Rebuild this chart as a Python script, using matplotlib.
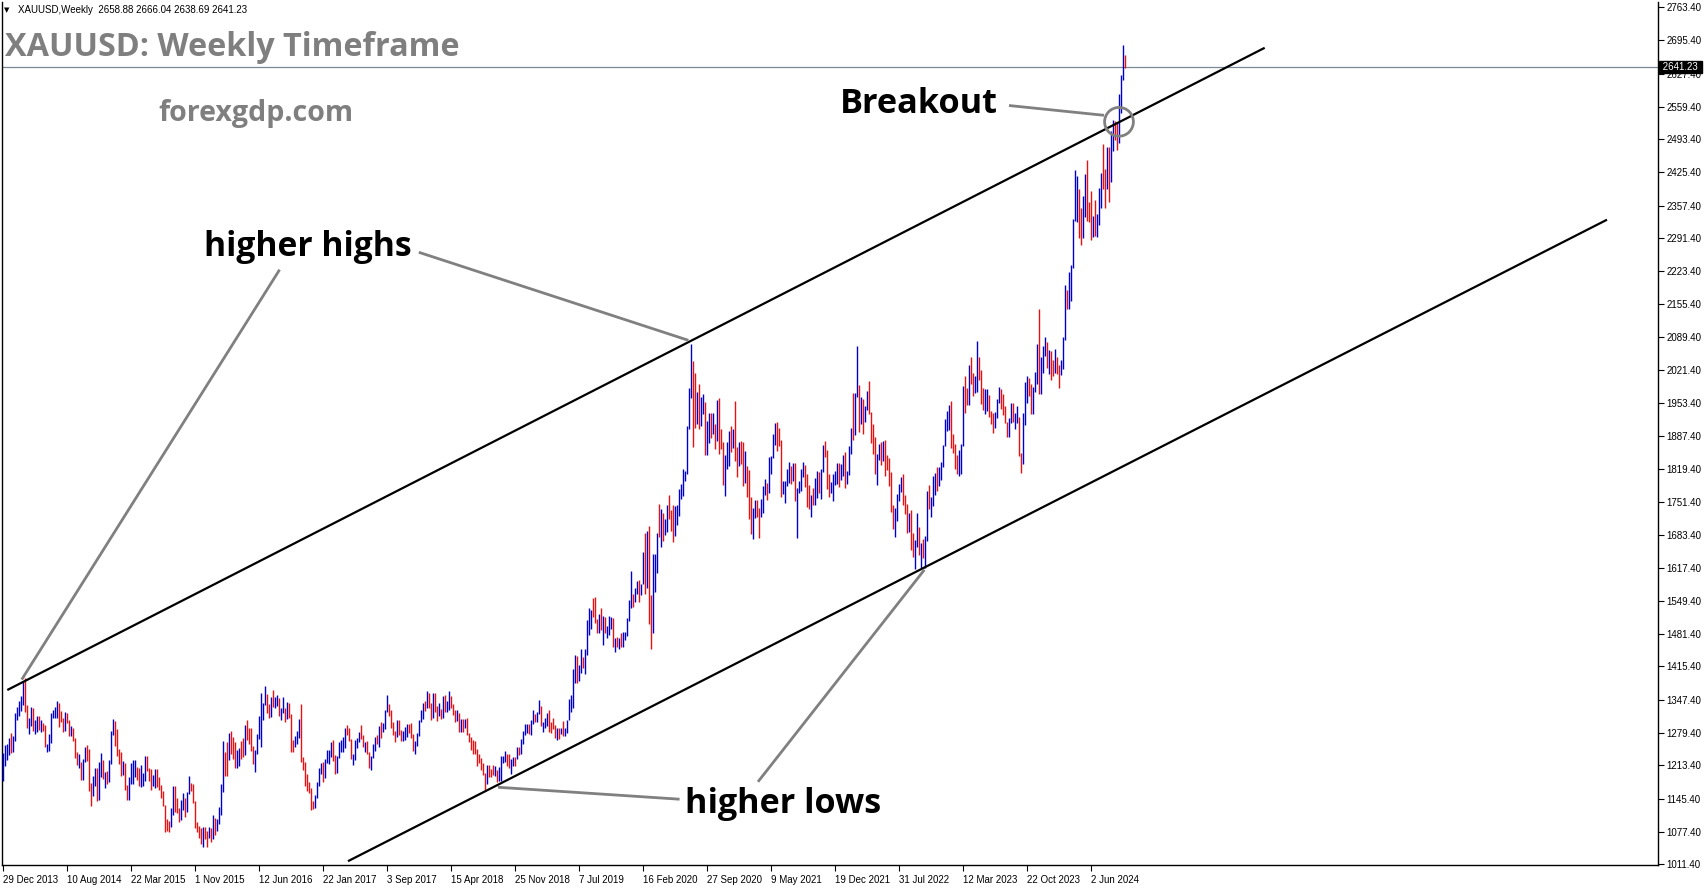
import matplotlib
matplotlib.use("Agg")
import matplotlib.pyplot as plt
import matplotlib.transforms as mtransforms
import numpy as np

# ---------------- data (weekly XAUUSD bars, from 29 Dec 2013) ----------------
first_open = 1202

high = [
    # 2014
    1238,1255,1256,1270,1280,1274,1320,1332,1345,1354,1385,1392,1337,1310,1332,1331,1306,1315,1315,1306,
    1300,1295,1256,1278,1321,1326,1332,1345,1340,1325,1311,1322,1320,1306,1293,1290,1270,1240,1237,1221,
    1226,1250,1255,1247,1178,1192,1208,1207,1221,1238,1225,1200,1202,
    # 2015
    1225,1283,1307,1303,1287,1246,1240,1223,1217,1174,1190,1219,1224,1224,1209,1207,1214,1197,1232,1232,
    1208,1205,1194,1205,1205,1189,1174,1160,1132,1103,1100,1126,1170,1170,1147,1126,1142,1157,1146,1159,
    1191,1178,1176,1141,1097,1090,1085,1088,1088,1080,1088,1085,
    # 2016
    1111,1105,1104,1128,1175,1263,1240,1261,1280,1283,1272,1260,1245,1248,1262,1270,1296,1306,1290,1290,
    1253,1244,1278,1315,1362,1340,1375,1360,1338,1353,1367,1353,1358,1350,1330,1352,1330,1343,1341,1318,
    1266,1273,1284,1308,1338,1231,1220,1195,1180,1166,1140,1152,
    # 2017
    1180,1207,1219,1221,1226,1245,1245,1260,1264,1235,1232,1261,1265,1271,1289,1296,1290,1268,1236,1264,
    1270,1282,1296,1275,1260,1262,1241,1233,1256,1271,1275,1293,1301,1300,1326,1357,1338,1327,1302,1284,
    1306,1306,1285,1283,1291,1298,1298,1299,1278,1262,1279,1305,
    # 2018
    1326,1340,1345,1366,1362,1340,1362,1361,1335,1340,1329,1355,1356,1344,1365,1354,1339,1326,1326,1321,
    1307,1308,1307,1309,1279,1272,1265,1262,1247,1236,1228,1219,1198,1214,1214,1206,1214,1211,1203,1210,
    1233,1233,1243,1237,1237,1226,1230,1231,1250,1250,1267,1283,
    # 2019
    1298,1297,1298,1305,1326,1319,1323,1346,1334,1301,1311,1320,1326,1302,1310,1295,1289,1290,1289,1303,
    1290,1306,1348,1358,1411,1439,1437,1419,1452,1434,1452,1510,1535,1531,1555,1557,1512,1522,1535,1519,
    1517,1498,1518,1516,1515,1474,1475,1473,1484,1486,1485,1514,
    # 2020
    1552,1611,1564,1575,1591,1592,1584,1649,1689,1692,1703,1561,1645,1645,1689,1747,1738,1730,1716,1745,
    1765,1735,1745,1744,1746,1779,1789,1818,1815,1907,1984,2075,2040,2015,1976,1992,1966,1973,1956,1917,
    1933,1933,1933,1910,1960,1965,1900,1875,1848,1875,1896,1906,1901,
    # 2021
    1959,1864,1875,1876,1875,1855,1825,1816,1761,1740,1755,1756,1740,1758,1785,1798,1790,1843,1845,1890,
    1913,1916,1903,1878,1795,1795,1818,1834,1825,1832,1832,1781,1795,1820,1834,1828,1809,1787,1765,1781,
    1800,1814,1813,1818,1869,1877,1858,1809,1793,1809,1815,1831,
    # 2022
    1831,1830,1848,1853,1815,1865,1902,1974,1974,2070,1990,1966,1962,1948,1978,1998,1936,1910,1884,1850,
    1870,1874,1877,1879,1847,1842,1813,1745,1739,1767,1788,1802,1808,1765,1748,1729,1735,1688,1673,1729,
    1700,1667,1675,1683,1773,1786,1761,1805,1810,1824,1823,1833,
    # 2023
    1869,1922,1938,1949,1959,1890,1870,1847,1858,1870,1989,2009,1985,2032,2048,2015,2009,2081,2048,2022,
    1985,1983,1983,1971,1938,1934,1935,1963,1987,1982,1972,1948,1916,1924,1953,1953,1933,1947,1926,1851,
    1934,1997,2009,2004,1992,1987,2018,2075,2146,2047,2070,2088,
    # 2024
    2078,2062,2060,2041,2065,2048,2032,2041,2088,2195,2185,2222,2236,2330,2431,2417,2392,2353,2378,2422,
    2450,2364,2387,2336,2368,2340,2393,2425,2483,2432,2477,2477,2509,2532,2531,2529,2586,2625,2685,2666.04,
]

low = [
    # 2014
    1182,1211,1224,1235,1238,1240,1262,1305,1315,1324,1336,1322,1290,1277,1294,1283,1277,1281,1285,1281,
    1284,1251,1240,1243,1258,1309,1309,1310,1292,1301,1281,1283,1300,1273,1274,1262,1229,1214,1207,1183,
    1183,1220,1223,1160,1131,1150,1171,1141,1142,1190,1186,1167,1175,
    # 2015
    1180,1216,1276,1252,1232,1216,1191,1193,1162,1142,1142,1176,1176,1190,1183,1170,1169,1170,1182,1201,
    1181,1162,1171,1166,1168,1162,1147,1130,1077,1080,1077,1087,1112,1118,1115,1098,1102,1122,1108,1118,
    1154,1160,1136,1085,1077,1064,1052,1046,1062,1046,1064,1057,
    # 2016
    1062,1071,1080,1093,1111,1159,1191,1191,1224,1236,1227,1208,1207,1211,1226,1231,1235,1265,1256,1242,
    1216,1199,1236,1268,1250,1306,1336,1320,1310,1312,1333,1331,1334,1314,1305,1320,1302,1308,1311,1241,
    1241,1250,1257,1270,1220,1204,1171,1160,1156,1122,1124,1127,
    # 2017
    1146,1172,1195,1180,1188,1217,1216,1230,1223,1195,1198,1228,1240,1241,1249,1276,1262,1227,1214,1225,
    1248,1260,1268,1250,1240,1236,1207,1204,1228,1243,1256,1251,1269,1281,1287,1323,1314,1290,1276,1261,
    1272,1276,1262,1263,1264,1271,1279,1270,1243,1236,1253,1274,
    # 2018
    1301,1307,1324,1330,1330,1306,1311,1322,1303,1314,1307,1309,1323,1322,1327,1331,1316,1302,1304,1282,
    1281,1281,1290,1276,1261,1245,1237,1237,1211,1218,1204,1193,1160,1176,1190,1189,1193,1191,1180,1181,
    1182,1218,1221,1211,1207,1196,1212,1211,1226,1235,1236,1256,
    # 2019
    1275,1279,1277,1276,1298,1302,1302,1319,1293,1281,1289,1293,1281,1280,1287,1270,1266,1267,1278,1274,
    1273,1279,1305,1323,1331,1381,1382,1385,1401,1412,1400,1438,1480,1492,1517,1504,1484,1483,1490,1459,
    1484,1474,1480,1492,1456,1445,1456,1452,1455,1456,1470,1477,
    # 2020
    1509,1535,1536,1547,1563,1547,1562,1583,1563,1576,1503,1451,1483,1568,1606,1680,1660,1672,1685,1691,
    1717,1692,1670,1683,1704,1723,1757,1763,1795,1808,1900,1964,1863,1903,1910,1901,1906,1932,1848,1848,
    1873,1883,1891,1859,1877,1850,1859,1787,1764,1820,1826,1853,1861,
    # 2021
    1836,1802,1826,1830,1785,1790,1761,1716,1687,1676,1718,1720,1677,1720,1730,1765,1756,1769,1808,1842,
    1869,1856,1866,1761,1767,1750,1784,1791,1789,1795,1753,1677,1770,1775,1803,1782,1742,1737,1721,1746,
    1746,1759,1770,1758,1813,1843,1778,1762,1769,1753,1787,1789,
    # 2022
    1783,1796,1805,1780,1788,1806,1850,1879,1888,1966,1895,1910,1890,1915,1940,1931,1872,1850,1808,1787,
    1838,1828,1836,1805,1816,1785,1732,1697,1680,1712,1754,1771,1745,1727,1688,1691,1654,1639,1615,1659,
    1643,1617,1638,1616,1672,1737,1721,1744,1765,1773,1785,1796,
    # 2023
    1824,1866,1896,1899,1861,1852,1818,1808,1804,1809,1867,1934,1949,1950,1992,1969,1974,1976,2000,1951,
    1939,1932,1938,1925,1910,1893,1902,1923,1953,1942,1929,1912,1885,1884,1913,1915,1901,1913,1846,1810,
    1830,1908,1953,1969,1931,1932,1977,1993,1973,1973,2016,2049,
    # 2024
    2025,2013,2001,2009,2016,2014,1984,2011,2024,2082,2146,2146,2163,2229,2325,2324,2291,2277,2292,2334,
    2325,2324,2287,2293,2295,2293,2318,2353,2391,2353,2391,2364,2406,2470,2491,2471,2485,2546,2615,2638.69,
]

close = [
    # 2014
    1237,1247,1254,1264,1240,1262,1318,1323,1326,1339,1379,1334,1294,1303,1318,1293,1301,1302,1288,1293,
    1292,1251,1252,1274,1316,1320,1320,1338,1310,1303,1294,1310,1306,1280,1287,1267,1231,1216,1218,1192,
    1222,1238,1231,1170,1169,1186,1200,1175,1191,1222,1195,1195,1186,
    # 2015
    1216,1277,1293,1279,1234,1228,1204,1212,1165,1152,1182,1198,1201,1204,1203,1178,1179,1189,1224,1205,
    1190,1168,1180,1201,1173,1163,1157,1131,1098,1095,1094,1113,1160,1134,1121,1103,1139,1145,1137,1156,
    1176,1163,1142,1088,1081,1076,1057,1086,1075,1065,1076,1061,
    # 2016
    1099,1089,1097,1117,1173,1239,1227,1222,1271,1259,1255,1217,1222,1243,1235,1232,1290,1289,1273,1253,
    1216,1242,1276,1298,1316,1340,1366,1327,1322,1350,1336,1336,1341,1320,1326,1328,1310,1338,1316,1257,
    1252,1267,1276,1304,1225,1208,1183,1177,1160,1134,1133,1151,
    # 2017
    1173,1197,1204,1190,1220,1234,1236,1257,1226,1201,1229,1245,1249,1254,1286,1284,1268,1227,1228,1254,
    1267,1279,1271,1255,1256,1242,1212,1228,1254,1269,1258,1289,1284,1290,1325,1346,1320,1297,1280,1275,
    1304,1280,1266,1269,1274,1294,1287,1279,1248,1257,1275,1303,
    # 2018
    1320,1338,1332,1349,1333,1315,1356,1330,1323,1324,1313,1347,1325,1332,1345,1336,1323,1314,1318,1291,
    1302,1294,1298,1278,1269,1252,1241,1240,1231,1223,1214,1193,1184,1206,1199,1196,1194,1200,1192,1203,
    1222,1227,1234,1233,1209,1222,1223,1221,1248,1238,1258,1281,
    # 2019
    1287,1290,1281,1303,1318,1314,1322,1329,1293,1298,1302,1313,1292,1291,1290,1275,1286,1280,1285,1277,
    1283,1305,1341,1342,1399,1409,1400,1415,1426,1419,1440,1497,1513,1527,1520,1506,1488,1516,1497,1505,
    1489,1490,1505,1509,1459,1468,1462,1463,1460,1476,1479,1511,
    # 2020
    1552,1562,1557,1571,1589,1570,1584,1643,1585,1674,1530,1498,1617,1620,1684,1683,1729,1700,1702,1743,
    1735,1730,1685,1730,1742,1772,1774,1798,1810,1901,1975,2035,1944,1940,1964,1933,1940,1950,1861,1899,
    1930,1899,1902,1879,1951,1889,1871,1788,1838,1839,1881,1877,1898,
    # 2021
    1849,1828,1856,1847,1814,1824,1784,1734,1700,1727,1745,1733,1729,1744,1777,1778,1768,1831,1844,1881,
    1904,1891,1877,1764,1781,1784,1808,1812,1802,1814,1763,1780,1781,1818,1827,1787,1751,1750,1761,1757,
    1768,1793,1783,1817,1864,1846,1788,1783,1784,1805,1809,1829,
    # 2022
    1797,1817,1835,1792,1808,1859,1898,1889,1969,1988,1921,1954,1925,1945,1974,1931,1896,1883,1811,1846,
    1853,1850,1871,1839,1827,1811,1742,1703,1727,1765,1775,1802,1747,1737,1712,1716,1675,1644,1660,1694,
    1644,1657,1644,1681,1771,1751,1754,1797,1798,1793,1798,1824,
    # 2023
    1866,1920,1926,1928,1865,1862,1842,1811,1856,1868,1988,1978,1969,2007,2004,1983,1990,2017,2011,1977,
    1946,1948,1961,1958,1921,1919,1925,1955,1962,1959,1942,1914,1889,1915,1940,1919,1924,1925,1848,1832,
    1932,1981,2006,1992,1938,1980,2002,2072,2004,2019,2053,2062,
    # 2024
    2045,2049,2029,2018,2039,2024,2013,2035,2083,2179,2155,2165,2233,2329,2344,2391,2337,2301,2360,2415,
    2334,2327,2293,2333,2321,2326,2392,2411,2400,2386,2443,2431,2508,2512,2503,2497,2578,2621,2658,2641.23,
]

x_labels = ["29 Dec 2013", "10 Aug 2014", "22 Mar 2015", "1 Nov 2015", "12 Jun 2016",
            "22 Jan 2017", "3 Sep 2017", "15 Apr 2018", "25 Nov 2018", "7 Jul 2019",
            "16 Feb 2020", "27 Sep 2020", "9 May 2021", "19 Dec 2021", "31 Jul 2022",
            "12 Mar 2023", "22 Oct 2023", "2 Jun 2024"]
label_step = 32  # bars between date labels

y_ticks = [1011.40, 1077.40, 1145.40, 1213.40, 1279.40, 1347.40, 1415.40, 1481.40, 1549.40,
           1617.40, 1683.40, 1751.40, 1819.40, 1887.40, 1953.40, 2021.40, 2089.40, 2155.40,
           2223.40, 2291.40, 2357.40, 2425.40, 2493.40, 2559.40, 2627.40, 2695.40, 2763.40]

last_price = 2641.23
header = "XAUUSD,Weekly  2658.88 2666.04 2638.69 2641.23"

# channel lines (bar index, price)
upper_channel = [(2.15, 1367.2), (630.85, 2680.0)]
lower_channel = [(172.5, 1017.3), (802.0, 2328.6)]

# annotation pointers (bar index, price)
breakout_ptr = [(503.0, 2562.0), (550.5, 2542.0)]
breakout_circle = (558.0, 2528.7)
hh_ptrs = [[(207.9, 2262.0), (342.7, 2082.0)], [(138.3, 2226.4), (9.35, 1388.5)]]
hl_ptrs = [[(247.5, 1168.4), (338.3, 1144.0)], [(377.5, 1179.6), (460.7, 1613.0)]]

# ---------------- figure ----------------
W, H = 1705, 888
fig = plt.figure(figsize=(W / 100, H / 100), dpi=100)
fig.patch.set_facecolor("white")
L, R, T, B = 2, 1658, 2, 865
ax = fig.add_axes([L / W, 1 - B / H, (R - L) / W, (B - T) / H])
ax.set_xlim(-0.5, 827.5)
ax.set_ylim(1009.5, 2773.6)

n = len(close)
idx = np.arange(n)
opens = np.r_[first_open, np.array(close[:-1], dtype=float)]
up = np.array(close, dtype=float) >= opens
colors = np.where(up, "#0000cc", "#e81010")
ax.vlines(idx, low, high, colors=colors, linewidth=1.0, zorder=3)

# current price line
ax.axhline(last_price, color="#7a8896", linewidth=0.9, zorder=2)

# channel lines
for ch in (upper_channel, lower_channel):
    ax.plot([ch[0][0], ch[1][0]], [ch[0][1], ch[1][1]], color="black", linewidth=1.6,
            solid_capstyle="butt", zorder=4)

grey = "#808080"
for seg in [breakout_ptr] + hh_ptrs + hl_ptrs:
    ax.plot([seg[0][0], seg[1][0]], [seg[0][1], seg[1][1]], color=grey, linewidth=2.0,
            solid_capstyle="butt", zorder=4)
ax.scatter([breakout_circle[0]], [breakout_circle[1]], s=430, facecolors="none",
           edgecolors=grey, linewidths=2.0, zorder=5)

# axes styling
for s in ("left", "bottom", "right"):
    ax.spines[s].set_color("black")
    ax.spines[s].set_linewidth(1.0)
ax.spines["top"].set_visible(False)

ax.yaxis.tick_right()
ax.set_yticks(y_ticks)
ax.set_yticklabels([f"{v:.2f}" for v in y_ticks])
ax.tick_params(axis="y", direction="out", length=4, width=0.8, pad=2,
               labelsize=7, colors="black")
ax.set_xticks([k * label_step for k in range(len(x_labels))])
ax.set_xticklabels(x_labels)
ax.tick_params(axis="x", direction="out", length=4, width=0.8, pad=3,
               labelsize=7, colors="black")
for t in ax.get_xticklabels():
    t.set_horizontalalignment("left")
    t.set_fontfamily(["Liberation Sans", "DejaVu Sans"])
for t in ax.get_yticklabels():
    t.set_fontfamily(["Liberation Sans", "DejaVu Sans"])

# price box
trans = mtransforms.blended_transform_factory(ax.transAxes, ax.transData)
ax.annotate(" 2641.23 ", xy=(1.0, last_price), xycoords=trans, xytext=(2, 0),
            textcoords="offset pixels", ha="left", va="center",
            fontsize=7, color="white", family=["Liberation Sans", "DejaVu Sans"],
            bbox=dict(boxstyle="square,pad=0.12", fc="black", ec="black"), zorder=10,
            annotation_clip=False)


def fx(x):
    return x / W


def fy(y):
    return 1 - y / H


# header
fig.text(fx(4), fy(10), "\u25BC", fontsize=5, va="center", ha="left", color="black",
         family=["DejaVu Sans"])
fig.text(fx(18), fy(10), header, fontsize=7, va="center", ha="left", color="black",
         family=["Liberation Sans", "DejaVu Sans"])

# titles
fig.text(fx(5), fy(56), "XAUUSD: Weekly Timeframe", fontsize=23.3, fontweight="bold",
         color="#7f7f7f", family=["Open Sans", "DejaVu Sans"], va="baseline", ha="left")
fig.text(fx(158), fy(121), "forexgdp.com", fontsize=20.6, fontweight="bold",
         color="#7f7f7f", family=["Open Sans", "DejaVu Sans"], va="baseline", ha="left")

# annotation labels
fig.text(fx(840), fy(113), "Breakout", fontsize=24.7, fontweight="bold", color="black",
         family=["Open Sans", "DejaVu Sans"], va="baseline", ha="left")
fig.text(fx(204), fy(256), "higher highs", fontsize=24.2, fontweight="bold", color="black",
         family=["Open Sans", "DejaVu Sans"], va="baseline", ha="left")
fig.text(fx(685), fy(813), "higher lows", fontsize=24.6, fontweight="bold", color="black",
         family=["Open Sans", "DejaVu Sans"], va="baseline", ha="left")

fig.savefig("out.png", dpi=100, facecolor="white")
